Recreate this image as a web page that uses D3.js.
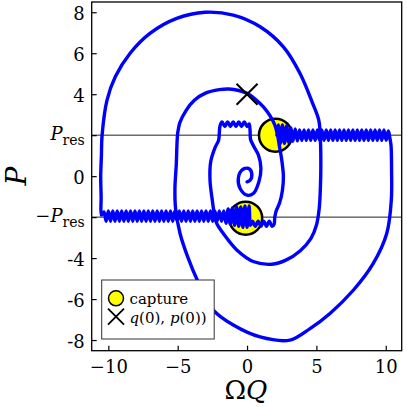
<!DOCTYPE html>
<html>
<head>
<meta charset="utf-8">
<script src="https://cdn.jsdelivr.net/npm/d3@7"></script>
<style>
  body { margin: 0; background: #fff; }
  svg { display: block; }
  svg text { font-family: "DejaVu Serif", serif; }
</style>
</head>
<body>
<div id="chart"></div>
<script>
// trajectory pieces in (ΩQ, P), listed in drawing order
const upperBand = [[2.15,2.0],[2.25,2.5],[2.4,1.6],[2.55,2.5],[2.7,1.6],[2.85,2.45],[3.0,1.65],[3.15,2.35],[3.3,1.7],[3.47,2.3],[3.63,1.72],[3.79,2.25],[3.95,1.75],[4.11,2.25],[4.27,1.75],[4.43,2.25],[4.59,1.75],[4.75,2.25],[4.91,1.75],[5.07,2.25],[5.23,1.75],[5.39,2.25],[5.55,1.75],[5.71,2.25],[5.87,1.75],[6.03,2.25],[6.19,1.75],[6.35,2.25],[6.51,1.75],[6.67,2.25],[6.83,1.75],[6.99,2.25],[7.15,1.75],[7.31,2.25],[7.47,1.75],[7.63,2.25],[7.79,1.75],[7.95,2.25],[8.11,1.75],[8.27,2.25],[8.43,1.75],[8.59,2.25],[8.75,1.75],[8.91,2.25],[9.07,1.75],[9.23,2.25],[9.39,1.75],[9.55,2.25],[9.71,1.75],[9.87,2.25],[10.03,1.75],[10.19,2.2],[10.3,1.85]];

const lowerArc = [[10.38,1.5],[10.42,0.3],[10.4,-1.17],[10.07,-2.8],[9.1,-4.26],[7.66,-5.57],[5.98,-6.7],[4.54,-7.44],[3.1,-8.0],[0.94,-7.85],[-0.99,-7.27],[-2.43,-6.54],[-3.5,-5.2],[-4.3,-3.9],[-4.83,-2.8],[-5.15,-1.6],[-5.2,-0.6],[-5.1,0.6],[-5.05,1.6],[-5.0,2.1],[-4.85,2.6],[-4.4,3.2],[-3.8,3.7],[-3.0,4.05],[-2.0,4.22],[-1.3,4.25],[-0.6,4.18],[0,4.04],[0.6,3.75],[1.18,3.38],[1.65,2.95],[2.0,2.5],[2.2,2.0],[2.35,1.4],[2.5,0.8],[2.62,0.0],[2.55,-0.7],[2.35,-1.3],[2.1,-1.7],[2.0,-2.0],[1.95,-2.35]];

const lowerLedge = [[1.8,-2.45],[1.6,-2.2],[1.4,-2.45],[1.2,-2.2],[1.0,-2.45],[0.8,-2.2],[0.6,-2.45],[0.4,-2.2],[0.25,-2.4],[0.15,-1.45],[0.0,-2.5],[-0.15,-1.45],[-0.3,-2.5],[-0.45,-1.5],[-0.6,-2.45],[-0.75,-1.5],[-0.9,-2.4],[-1.05,-1.55],[-1.2,-2.35],[-1.36,-1.6],[-1.52,-2.3]];

const lowerBand = [[-1.68,-1.7],[-1.84,-2.2],[-2.0,-1.7],[-2.16,-2.2],[-2.32,-1.7],[-2.48,-2.2],[-2.64,-1.7],[-2.8,-2.2],[-2.96,-1.7],[-3.12,-2.2],[-3.28,-1.7],[-3.44,-2.2],[-3.6,-1.7],[-3.76,-2.2],[-3.92,-1.7],[-4.08,-2.2],[-4.24,-1.7],[-4.4,-2.2],[-4.56,-1.7],[-4.72,-2.2],[-4.88,-1.7],[-5.04,-2.2],[-5.2,-1.7],[-5.36,-2.2],[-5.52,-1.7],[-5.68,-2.2],[-5.84,-1.7],[-6.0,-2.2],[-6.16,-1.7],[-6.32,-2.2],[-6.48,-1.7],[-6.64,-2.2],[-6.8,-1.7],[-6.96,-2.2],[-7.12,-1.7],[-7.28,-2.2],[-7.44,-1.7],[-7.6,-2.2],[-7.76,-1.7],[-7.92,-2.2],[-8.08,-1.7],[-8.24,-2.2],[-8.4,-1.7],[-8.56,-2.2],[-8.72,-1.7],[-8.88,-2.2],[-9.04,-1.7],[-9.2,-2.2],[-9.36,-1.7],[-9.52,-2.2],[-9.68,-1.7],[-9.84,-2.2],[-10.0,-1.7],[-10.16,-2.2],[-10.32,-1.75],[-10.5,-1.9]];

const upperArc = [[-10.52,-1.0],[-10.55,0],[-10.5,1.0],[-10.45,2.0],[-10.1,3.7],[-9.5,4.85],[-8.43,6.0],[-7.0,6.97],[-5.07,7.7],[-3.03,8.0],[-0.99,7.86],[0.94,7.29],[2.62,6.31],[3.82,5.01],[4.7,3.6],[5.17,2.73],[5.29,1.76],[5.32,0.5],[5.29,-0.52],[5.2,-1.6],[5.0,-2.4],[4.6,-3.05],[3.82,-3.65],[2.8,-4.1],[1.8,-4.3],[0.5,-4.18],[-0.74,-3.6],[-1.71,-2.8],[-2.19,-2.3],[-2.35,-1.9],[-2.5,-1.2],[-2.67,-0.2],[-2.62,0.7],[-2.3,1.4],[-2.05,1.75],[-2.0,2.1],[-1.95,2.45]];

const omegaTop = [[-1.8,2.65],[-1.6,2.42],[-1.4,2.65],[-1.2,2.42],[-1.0,2.65],[-0.8,2.42],[-0.6,2.65],[-0.4,2.42],[-0.2,2.65],[0.0,2.42],[0.15,2.55],[0.22,2.2],[0.25,1.8]];

const spiral = [[0.45,1.5],[0.82,1.03],[1.0,0.38],[0.85,-0.28],[0.45,-0.85],[0.0,-0.93],[-0.5,-0.6],[-0.63,-0.11],[-0.38,0.29],[0.1,0.38],[0.34,0.13],[0.22,-0.2],[0.0,-0.28]];

const captureQ = [2.05, -0.1];
const captureP = [2.0, -2.05];
const startQ = 0;
const startP = 4;
const pRes = 2;

const xTicks = [-10, -5, 0, 5, 10];
const xTickLabels = ["\u221210", "\u22125", "0", "5", "10"];
const yTicks = [8, 6, 4, 2, 0, -2, -4, -6, -8];
const yTickLabels = ["8", "6", "4", "Pres", "0", "-Pres", "-4", "-6", "-8"];

const trajectory = [].concat(upperBand, lowerArc, lowerLedge, lowerBand, upperArc, omegaTop, spiral);

const width = 407, height = 407;
const plot = { left: 91.7, right: 401.7, top: 2, bottom: 350.7 };

const svg = d3.select("#chart").append("svg")
  .attr("width", width)
  .attr("height", height);

const x = d3.scaleLinear().domain([-11.2, 11.15]).range([plot.left, plot.right]);
const y = d3.scaleLinear().domain([-8.52, 8.5]).range([plot.bottom, plot.top]);

// resonance lines
svg.selectAll(".res")
  .data([pRes, -pRes])
  .enter()
  .append("line")
  .attr("x1", plot.left).attr("x2", plot.right)
  .attr("y1", d => y(d)).attr("y2", d => y(d))
  .attr("stroke", "#222")
  .attr("stroke-width", 1);

// capture markers sit under the trajectory
svg.selectAll(".capture")
  .data(captureQ.map((q, i) => [q, captureP[i]]))
  .enter()
  .append("circle")
  .attr("cx", d => x(d[0]))
  .attr("cy", d => y(d[1]))
  .attr("r", 16.5)
  .attr("fill", "#ffff00")
  .attr("stroke", "black")
  .attr("stroke-width", 2.5);

const line = d3.line()
  .x(d => x(d[0]))
  .y(d => y(d[1]))
  .curve(d3.curveCatmullRom.alpha(0.5));

svg.append("path")
  .datum(trajectory)
  .attr("d", line)
  .attr("fill", "none")
  .attr("stroke", "#0000ff")
  .attr("stroke-width", 3.4)
  .attr("stroke-linejoin", "round")
  .attr("stroke-linecap", "round");

// start point
function cross(g, cx, cy, h, sw) {
  g.append("path")
    .attr("d", `M${cx - h},${cy - h}L${cx + h},${cy + h}M${cx - h},${cy + h}L${cx + h},${cy - h}`)
    .attr("stroke", "black")
    .attr("stroke-width", sw)
    .attr("fill", "none");
}
cross(svg, x(startQ), y(startP), 10.5, 2);

// axes, ticks pointing inward
const xAxis = svg.append("g")
  .attr("transform", `translate(0,${plot.bottom})`)
  .call(d3.axisBottom(x).tickValues(xTicks).tickSize(-5).tickSizeOuter(0)
    .tickPadding(10).tickFormat((d, i) => xTickLabels[i]));
const yAxis = svg.append("g")
  .attr("transform", `translate(${plot.left},0)`)
  .call(d3.axisLeft(y).tickValues(yTicks).tickSize(-5).tickSizeOuter(0)
    .tickPadding(7).tickFormat((d, i) => yTickLabels[i]));

[xAxis, yAxis].forEach(a => {
  a.attr("font-family", null);
  a.select(".domain").remove();
  a.selectAll("line").attr("stroke", "black").attr("stroke-width", 1.2);
  a.selectAll("text").attr("font-size", 18).attr("fill", "black");
});
xAxis.selectAll("text").attr("dy", null).attr("y", 22);

yAxis.selectAll("text").attr("dy", null).attr("y", 7)
  .each(function (d, i) {
    const label = yTickLabels[i];
    if (!label.includes("Pres")) return;
    const t = d3.select(this).text(null).attr("y", 4);
    if (label.startsWith("-")) t.append("tspan").text("\u2212");
    t.append("tspan").attr("font-style", "italic").text("P");
    t.append("tspan").attr("font-size", 14).attr("dy", 5).text("res");
  });

svg.append("rect")
  .attr("x", plot.left).attr("y", plot.top)
  .attr("width", plot.right - plot.left).attr("height", plot.bottom - plot.top)
  .attr("fill", "none")
  .attr("stroke", "black")
  .attr("stroke-width", 1.3);

// axis titles
const xTitle = svg.append("text")
  .attr("x", 246).attr("y", 399)
  .attr("text-anchor", "middle")
  .attr("font-size", 26);
xTitle.append("tspan").text("\u03A9");
xTitle.append("tspan").attr("font-style", "italic").text("Q");

svg.append("text")
  .attr("transform", "translate(26,176) rotate(-90)")
  .attr("text-anchor", "middle")
  .attr("font-style", "italic")
  .attr("font-size", 28)
  .text("P");

// legend
const legend = svg.append("g");
legend.append("rect")
  .attr("x", 101.7).attr("y", 280)
  .attr("width", 112.5).attr("height", 59)
  .attr("fill", "white")
  .attr("stroke", "#333")
  .attr("stroke-width", 1);
legend.append("circle")
  .attr("cx", 116).attr("cy", 298.3).attr("r", 7.5)
  .attr("fill", "#ffff00").attr("stroke", "black").attr("stroke-width", 1.5);
legend.append("text")
  .attr("x", 129.5).attr("y", 303.5)
  .attr("font-size", 15)
  .text("capture");
cross(legend, 116, 316.7, 8, 1.8);
const startLabel = legend.append("text")
  .attr("x", 129.5).attr("y", 322.5)
  .attr("font-size", 15);
startLabel.append("tspan").attr("font-style", "italic").text("q");
startLabel.append("tspan").text("(0), ");
startLabel.append("tspan").attr("font-style", "italic").text("p");
startLabel.append("tspan").text("(0))");
</script>
</body>
</html>
